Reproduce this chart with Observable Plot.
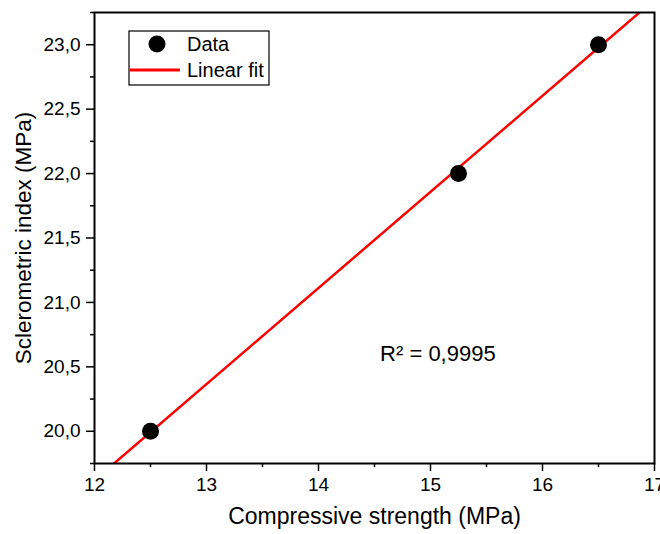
<!DOCTYPE html>
<html>
<head>
<meta charset="utf-8">
<script src="https://cdn.jsdelivr.net/npm/d3@7"></script>
<script src="https://cdn.jsdelivr.net/npm/@observablehq/plot@0.6"></script>
<style>
  html, body { margin: 0; padding: 0; background: #fff; }
  #chart { width: 660px; height: 534px; }
  svg { font-family: "Liberation Sans", Arial, sans-serif; }
</style>
</head>
<body>
<div id="chart"></div>
<script>
// Data
const strength = [12.5, 15.25, 16.5];      // Compressive strength (MPa)
const sclero = [20.0, 22.0, 23.0];         // Sclerometric index (MPa)
// Linear fit line (read endpoints, clipped to frame)
const fitX = [12, 17];
const fitY = [19.62, 23.35];
// Ticks
const xMajor = [12, 13, 14, 15, 16, 17];
const xMinor = [12.5, 13.5, 14.5, 15.5, 16.5];
const yMajor = [20.0, 20.5, 21.0, 21.5, 22.0, 22.5, 23.0];
const yMinor = [19.75, 20.25, 20.75, 21.25, 21.75, 22.25, 22.75, 23.25];
// Titles
const xTitle = ["Compressive strength (MPa)"];
const yTitle = ["Sclerometric index (MPa)"];
// Annotation
const annText = ["R\u00B2 = 0,9995"];
const annX = [14.55];
const annY = [20.6];
// Legend
const legendLabels = ["Data", "Linear fit"];

const points = strength.map((x, i) => ({x, y: sclero[i]}));
const fit = fitX.map((x, i) => ({x, y: fitY[i]}));
const ann = annText.map((t, i) => ({t, x: annX[i], y: annY[i]}));
const comma = d => d3.format(".1f")(d).replace(".", ",");

const plot = Plot.plot({
  width: 660,
  height: 534,
  marginLeft: 94,
  marginRight: 6,
  marginTop: 12,
  marginBottom: 71,
  style: {fontFamily: "'Liberation Sans', Arial, sans-serif", color: "#000", background: "#fff", overflow: "visible"},
  x: {domain: [12, 17]},
  y: {domain: [19.75, 23.25]},
  marks: [
    Plot.axisX(xMinor, {tickSize: 4, tickFormat: () => "", strokeWidth: 1.5, label: null}),
    Plot.axisX(xMajor, {tickSize: 8, tickPadding: 6, fontSize: 19, strokeWidth: 1.5, tickFormat: d => String(d), label: null}),
    Plot.axisY(yMinor, {tickSize: 4, tickFormat: () => "", strokeWidth: 1.5, label: null}),
    Plot.axisY(yMajor, {tickSize: 8, tickPadding: 6, fontSize: 19, strokeWidth: 1.5, tickFormat: comma, label: null}),
    Plot.text(xTitle, {frameAnchor: "bottom", dy: 60, fontSize: 23, fill: "#000"}),
    Plot.text(yTitle, {frameAnchor: "left", textAnchor: "middle", lineAnchor: "middle", dx: -71, rotate: -90, fontSize: 22.5, fill: "#000"}),
    Plot.line(fit, {x: "x", y: "y", stroke: "#ff0000", strokeWidth: 2.5, clip: true}),
    Plot.dot(points, {x: "x", y: "y", r: 8.5, fill: "#000"}),
    Plot.text(ann, {x: "x", y: "y", text: "t", textAnchor: "start", fontSize: 22, fill: "#000"}),
    Plot.frame({stroke: "#000", strokeWidth: 2})
  ]
});
document.getElementById("chart").appendChild(plot);

// Legend drawn inside the plot frame
const svg = d3.select(plot);
const g = svg.append("g").attr("transform", "translate(129,31)");
g.append("rect").attr("width", 140).attr("height", 54)
  .attr("fill", "#fff").attr("stroke", "#000").attr("stroke-width", 1.2);
g.append("circle").attr("cx", 28).attr("cy", 13).attr("r", 8.5).attr("fill", "#000");
g.append("line").attr("x1", 1).attr("x2", 51).attr("y1", 39).attr("y2", 39)
  .attr("stroke", "#ff0000").attr("stroke-width", 3);
legendLabels.forEach((t, i) => {
  g.append("text").attr("x", 58).attr("y", 13 + i * 26).attr("dy", "0.35em")
    .attr("text-anchor", "start").attr("font-size", 20).attr("fill", "#000").text(t);
});
</script>
</body>
</html>
